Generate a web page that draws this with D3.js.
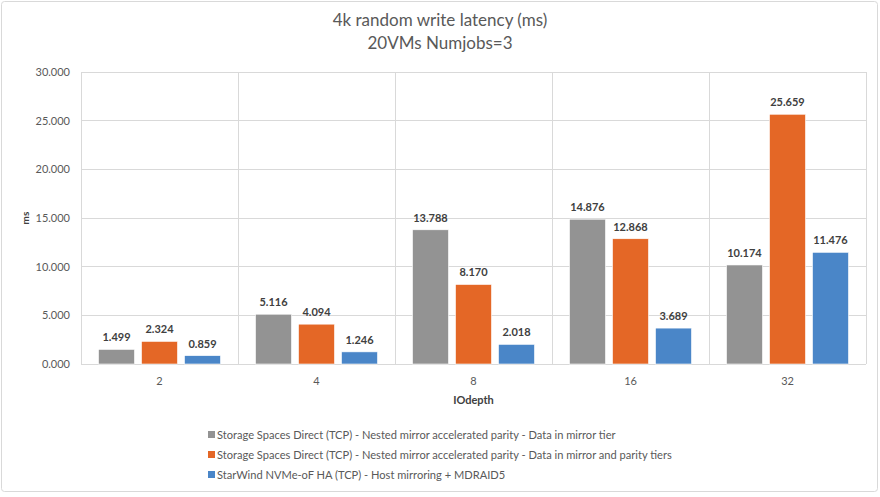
<!DOCTYPE html>
<html><head><meta charset="utf-8">
<script src="https://cdn.jsdelivr.net/npm/d3@7"></script>
<style>body{margin:0;background:#fff;} text{font-family:Lato,"Open Sans",sans-serif;}</style>
</head><body>
<svg id="chart" width="880" height="497"></svg>
<script>
const categories = ["2","4","8","16","32"];
const seriesNames = [
  "Storage Spaces Direct (TCP) - Nested mirror accelerated parity - Data in mirror tier",
  "Storage Spaces Direct (TCP) - Nested mirror accelerated parity - Data in mirror and parity tiers",
  "StarWind NVMe-oF HA (TCP) - Host mirroring + MDRAID5"
];
const s2dMirror = [1.499, 5.116, 13.788, 14.876, 10.174];
const s2dParity = [2.324, 4.094, 8.170, 12.868, 25.659];
const starwind = [0.859, 1.246, 2.018, 3.689, 11.476];
const yTicks = [0, 5, 10, 15, 20, 25, 30];
const colors = ["#939393", "#e46726", "#4a86c8"];
const series = [s2dMirror, s2dParity, starwind];

const svg = d3.select("#chart");
svg.append("rect").attr("x",1.5).attr("y",1.5).attr("width",876).attr("height",490)
  .attr("fill","#fff").attr("stroke","#d9d9d9").attr("stroke-width",1).attr("rx",3);

const L=81, R=866, T=72, B=364;
const x = d3.scaleBand().domain(categories).range([L,R]);
const y = d3.scaleLinear().domain([0,30]).range([B,T]);

// grid
svg.append("g").selectAll("line").data(yTicks).join("line")
  .attr("x1",L).attr("x2",R).attr("y1",d=>y(d)).attr("y2",d=>y(d))
  .attr("stroke","#d9d9d9").attr("stroke-width",1).attr("shape-rendering","crispEdges");
const vlines = categories.map(c=>x(c)).concat([R]);
svg.append("g").selectAll("line").data(vlines).join("line")
  .attr("x1",d=>d).attr("x2",d=>d).attr("y1",T).attr("y2",B)
  .attr("stroke","#d9d9d9").attr("stroke-width",1).attr("shape-rendering","crispEdges");

// y axis labels
const yAxis = d3.axisLeft(y).tickValues(yTicks).tickSize(0).tickPadding(11).tickFormat(d3.format(".3f"));
const ya = svg.append("g").attr("transform",`translate(${L},0)`).call(yAxis);
ya.select(".domain").remove();
ya.selectAll("text").attr("fill","#595959").style("font-size","11px").style("font-family","Lato,sans-serif");

// x axis labels
const xAxis = d3.axisBottom(x).tickSize(0).tickPadding(13);
const xa = svg.append("g").attr("transform",`translate(0,${B})`).call(xAxis);
xa.select(".domain").remove();
xa.selectAll("text").attr("fill","#595959").style("font-size","11px").style("font-family","Lato,sans-serif");

// bars
const inner = d3.scaleBand().domain([0,1,2]).range([0,x.bandwidth()]).paddingInner(0.163).paddingOuter(0.407);
series.forEach((vals,si)=>{
  const g = svg.append("g");
  g.selectAll("rect").data(vals).join("rect")
    .attr("x",(d,i)=>x(categories[i])+inner(si))
    .attr("y",d=>y(d)).attr("width",inner.bandwidth()).attr("height",d=>B-y(d))
    .attr("fill",colors[si]).attr("stroke","#fff").attr("stroke-width",0.6);
  g.selectAll("text").data(vals).join("text")
    .attr("x",(d,i)=>x(categories[i])+inner(si)+inner.bandwidth()/2)
    .attr("y",d=>y(d)-8).attr("text-anchor","middle")
    .attr("fill","#404040").style("font-size","11px").style("font-weight","bold")
    .text(d=>d3.format(".3f")(d));
});

// titles
svg.append("text").attr("x",440).attr("y",26).attr("text-anchor","middle")
  .attr("fill","#595959").style("font-size","17px").text("4k random write latency (ms)");
svg.append("text").attr("x",440).attr("y",49).attr("text-anchor","middle")
  .attr("fill","#595959").style("font-size","17px").text("20VMs Numjobs=3");
svg.append("text").attr("transform",`translate(29,${(T+B)/2}) rotate(-90)`).attr("text-anchor","middle")
  .attr("fill","#404040").style("font-size","10px").style("font-weight","bold").text("ms");
svg.append("text").attr("x",(L+R)/2).attr("y",404).attr("text-anchor","middle")
  .attr("fill","#404040").style("font-size","11px").style("font-weight","bold").text("IOdepth");

// legend
const lg = svg.append("g");
seriesNames.forEach((n,i)=>{
  const yy = 435 + i*20;
  lg.append("rect").attr("x",208).attr("y",yy-4).attr("width",7).attr("height",7).attr("fill",colors[i]);
  lg.append("text").attr("x",217).attr("y",yy+4).attr("fill","#595959")
    .style("font-size","11.1px").text(n);
});
</script>
</body></html>
